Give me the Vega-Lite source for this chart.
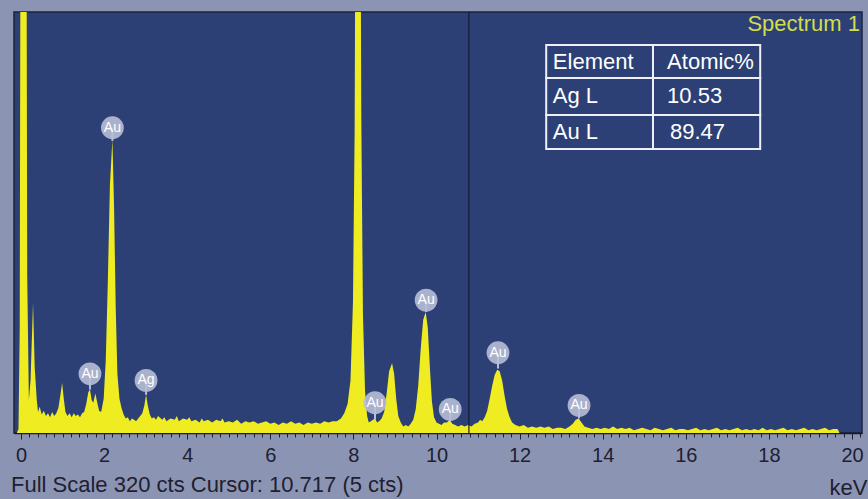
{
  "$schema": "https://vega.github.io/schema/vega-lite/v6.json",
  "width": 848,
  "height": 421,
  "autosize": {"type": "none"},
  "padding": {"left": 14, "top": 12, "right": 6, "bottom": 66},
  "background": "#8c94b4",
  "config": {
    "view": {"fill": "#2c4076", "stroke": "#1a2240", "strokeWidth": 1.5},
    "font": "Liberation Sans"
  },
  "title": {
    "text": "Full Scale 320 cts Cursor: 10.717 (5 cts)",
    "orient": "bottom",
    "anchor": "start",
    "frame": "group",
    "offset": -23,
    "dx": -3,
    "fontSize": 22,
    "font": "Liberation Sans",
    "fontWeight": "normal",
    "color": "#1e2030"
  },
  "datasets": {
    "spectrum": [
      {"keV": -0.1, "cts": 0}, {"keV": -0.06, "cts": 3}, {"keV": -0.03, "cts": 80}, {"keV": 0.0, "cts": 600},
      {"keV": 0.12, "cts": 600}, {"keV": 0.15, "cts": 120}, {"keV": 0.19, "cts": 25}, {"keV": 0.23, "cts": 40},
      {"keV": 0.29, "cts": 99}, {"keV": 0.33, "cts": 50}, {"keV": 0.38, "cts": 25}, {"keV": 0.41, "cts": 16},
      {"keV": 0.45, "cts": 20}, {"keV": 0.5, "cts": 14}, {"keV": 0.55, "cts": 17}, {"keV": 0.6, "cts": 13},
      {"keV": 0.65, "cts": 15}, {"keV": 0.7, "cts": 12}, {"keV": 0.75, "cts": 16}, {"keV": 0.8, "cts": 13},
      {"keV": 0.85, "cts": 15}, {"keV": 0.9, "cts": 19}, {"keV": 0.95, "cts": 29}, {"keV": 0.99, "cts": 38},
      {"keV": 1.03, "cts": 26}, {"keV": 1.07, "cts": 16}, {"keV": 1.12, "cts": 13}, {"keV": 1.17, "cts": 15},
      {"keV": 1.22, "cts": 12}, {"keV": 1.27, "cts": 15}, {"keV": 1.32, "cts": 13}, {"keV": 1.37, "cts": 14},
      {"keV": 1.42, "cts": 12}, {"keV": 1.47, "cts": 15}, {"keV": 1.52, "cts": 16}, {"keV": 1.57, "cts": 22},
      {"keV": 1.62, "cts": 31}, {"keV": 1.66, "cts": 33}, {"keV": 1.7, "cts": 25}, {"keV": 1.74, "cts": 23},
      {"keV": 1.79, "cts": 30}, {"keV": 1.83, "cts": 24}, {"keV": 1.88, "cts": 17}, {"keV": 1.93, "cts": 16},
      {"keV": 1.99, "cts": 26}, {"keV": 2.04, "cts": 55}, {"keV": 2.09, "cts": 115}, {"keV": 2.14, "cts": 188},
      {"keV": 2.2, "cts": 223}, {"keV": 2.24, "cts": 172}, {"keV": 2.28, "cts": 95}, {"keV": 2.32, "cts": 45},
      {"keV": 2.37, "cts": 26}, {"keV": 2.42, "cts": 19}, {"keV": 2.47, "cts": 14}, {"keV": 2.52, "cts": 11},
      {"keV": 2.57, "cts": 12}, {"keV": 2.62, "cts": 9}, {"keV": 2.67, "cts": 11}, {"keV": 2.72, "cts": 10},
      {"keV": 2.77, "cts": 9}, {"keV": 2.82, "cts": 11}, {"keV": 2.87, "cts": 13}, {"keV": 2.92, "cts": 15},
      {"keV": 2.97, "cts": 21}, {"keV": 3.01, "cts": 29}, {"keV": 3.05, "cts": 21}, {"keV": 3.1, "cts": 14},
      {"keV": 3.15, "cts": 11}, {"keV": 3.2, "cts": 12}, {"keV": 3.25, "cts": 10}, {"keV": 3.3, "cts": 13},
      {"keV": 3.4, "cts": 10}, {"keV": 3.45, "cts": 12}, {"keV": 3.5, "cts": 9}, {"keV": 3.6, "cts": 11},
      {"keV": 3.7, "cts": 10}, {"keV": 3.75, "cts": 13}, {"keV": 3.8, "cts": 9}, {"keV": 3.9, "cts": 11},
      {"keV": 4.0, "cts": 10}, {"keV": 4.05, "cts": 12}, {"keV": 4.1, "cts": 9}, {"keV": 4.2, "cts": 10},
      {"keV": 4.3, "cts": 8}, {"keV": 4.35, "cts": 11}, {"keV": 4.4, "cts": 9}, {"keV": 4.5, "cts": 10},
      {"keV": 4.6, "cts": 8}, {"keV": 4.7, "cts": 10}, {"keV": 4.8, "cts": 9}, {"keV": 4.85, "cts": 11},
      {"keV": 4.9, "cts": 8}, {"keV": 5.0, "cts": 9}, {"keV": 5.1, "cts": 8}, {"keV": 5.2, "cts": 10},
      {"keV": 5.3, "cts": 7}, {"keV": 5.4, "cts": 9}, {"keV": 5.5, "cts": 8}, {"keV": 5.6, "cts": 9},
      {"keV": 5.7, "cts": 7}, {"keV": 5.8, "cts": 8}, {"keV": 5.9, "cts": 9}, {"keV": 6.0, "cts": 7},
      {"keV": 6.1, "cts": 8}, {"keV": 6.2, "cts": 6}, {"keV": 6.3, "cts": 8}, {"keV": 6.4, "cts": 7},
      {"keV": 6.5, "cts": 9}, {"keV": 6.6, "cts": 7}, {"keV": 6.7, "cts": 8}, {"keV": 6.8, "cts": 6},
      {"keV": 6.9, "cts": 8}, {"keV": 7.0, "cts": 7}, {"keV": 7.1, "cts": 8}, {"keV": 7.2, "cts": 7},
      {"keV": 7.3, "cts": 9}, {"keV": 7.4, "cts": 8}, {"keV": 7.5, "cts": 9}, {"keV": 7.6, "cts": 9},
      {"keV": 7.7, "cts": 11}, {"keV": 7.78, "cts": 15}, {"keV": 7.86, "cts": 22}, {"keV": 7.93, "cts": 40},
      {"keV": 7.99, "cts": 100}, {"keV": 8.03, "cts": 230}, {"keV": 8.07, "cts": 600}, {"keV": 8.15, "cts": 600},
      {"keV": 8.19, "cts": 240}, {"keV": 8.23, "cts": 90}, {"keV": 8.28, "cts": 32}, {"keV": 8.33, "cts": 13},
      {"keV": 8.37, "cts": 8}, {"keV": 8.42, "cts": 9}, {"keV": 8.47, "cts": 10}, {"keV": 8.52, "cts": 11},
      {"keV": 8.57, "cts": 8}, {"keV": 8.62, "cts": 9}, {"keV": 8.68, "cts": 11}, {"keV": 8.74, "cts": 16},
      {"keV": 8.8, "cts": 30}, {"keV": 8.86, "cts": 47}, {"keV": 8.93, "cts": 53}, {"keV": 8.98, "cts": 45},
      {"keV": 9.03, "cts": 26}, {"keV": 9.08, "cts": 13}, {"keV": 9.14, "cts": 8}, {"keV": 9.2, "cts": 5},
      {"keV": 9.26, "cts": 6}, {"keV": 9.32, "cts": 5}, {"keV": 9.38, "cts": 7}, {"keV": 9.44, "cts": 10},
      {"keV": 9.5, "cts": 18}, {"keV": 9.56, "cts": 36}, {"keV": 9.62, "cts": 64}, {"keV": 9.68, "cts": 86},
      {"keV": 9.74, "cts": 92}, {"keV": 9.79, "cts": 80}, {"keV": 9.84, "cts": 50}, {"keV": 9.89, "cts": 24},
      {"keV": 9.94, "cts": 12}, {"keV": 10.0, "cts": 8}, {"keV": 10.06, "cts": 7}, {"keV": 10.12, "cts": 6},
      {"keV": 10.18, "cts": 8}, {"keV": 10.25, "cts": 8}, {"keV": 10.32, "cts": 10}, {"keV": 10.38, "cts": 7},
      {"keV": 10.45, "cts": 6}, {"keV": 10.52, "cts": 5}, {"keV": 10.6, "cts": 6}, {"keV": 10.68, "cts": 5},
      {"keV": 10.76, "cts": 6}, {"keV": 10.84, "cts": 5}, {"keV": 10.92, "cts": 7}, {"keV": 11.0, "cts": 8},
      {"keV": 11.05, "cts": 10}, {"keV": 11.1, "cts": 9}, {"keV": 11.16, "cts": 12}, {"keV": 11.22, "cts": 17},
      {"keV": 11.28, "cts": 26}, {"keV": 11.34, "cts": 36}, {"keV": 11.4, "cts": 44}, {"keV": 11.46, "cts": 48},
      {"keV": 11.52, "cts": 47}, {"keV": 11.58, "cts": 40}, {"keV": 11.64, "cts": 28}, {"keV": 11.7, "cts": 18},
      {"keV": 11.76, "cts": 12}, {"keV": 11.82, "cts": 8}, {"keV": 11.9, "cts": 6}, {"keV": 12.0, "cts": 5},
      {"keV": 12.1, "cts": 6}, {"keV": 12.2, "cts": 4}, {"keV": 12.3, "cts": 5}, {"keV": 12.4, "cts": 4},
      {"keV": 12.5, "cts": 5}, {"keV": 12.6, "cts": 4}, {"keV": 12.7, "cts": 5}, {"keV": 12.8, "cts": 3},
      {"keV": 12.9, "cts": 4}, {"keV": 13.0, "cts": 4}, {"keV": 13.1, "cts": 3}, {"keV": 13.2, "cts": 5},
      {"keV": 13.28, "cts": 7}, {"keV": 13.35, "cts": 10}, {"keV": 13.42, "cts": 11}, {"keV": 13.49, "cts": 8},
      {"keV": 13.56, "cts": 5}, {"keV": 13.65, "cts": 4}, {"keV": 13.75, "cts": 3}, {"keV": 13.85, "cts": 4},
      {"keV": 13.95, "cts": 3}, {"keV": 14.05, "cts": 4}, {"keV": 14.15, "cts": 3}, {"keV": 14.25, "cts": 5},
      {"keV": 14.35, "cts": 3}, {"keV": 14.45, "cts": 4}, {"keV": 14.55, "cts": 3}, {"keV": 14.65, "cts": 4},
      {"keV": 14.75, "cts": 2}, {"keV": 14.85, "cts": 3}, {"keV": 14.95, "cts": 4}, {"keV": 15.05, "cts": 3},
      {"keV": 15.15, "cts": 2}, {"keV": 15.25, "cts": 4}, {"keV": 15.35, "cts": 3}, {"keV": 15.45, "cts": 2},
      {"keV": 15.55, "cts": 3}, {"keV": 15.65, "cts": 4}, {"keV": 15.75, "cts": 2}, {"keV": 15.85, "cts": 3},
      {"keV": 15.95, "cts": 3}, {"keV": 16.05, "cts": 2}, {"keV": 16.15, "cts": 3}, {"keV": 16.25, "cts": 4},
      {"keV": 16.35, "cts": 2}, {"keV": 16.45, "cts": 3}, {"keV": 16.55, "cts": 2}, {"keV": 16.65, "cts": 3},
      {"keV": 16.75, "cts": 4}, {"keV": 16.85, "cts": 2}, {"keV": 16.95, "cts": 3}, {"keV": 17.05, "cts": 2},
      {"keV": 17.15, "cts": 3}, {"keV": 17.25, "cts": 4}, {"keV": 17.35, "cts": 2}, {"keV": 17.45, "cts": 3},
      {"keV": 17.55, "cts": 2}, {"keV": 17.65, "cts": 3}, {"keV": 17.75, "cts": 2}, {"keV": 17.85, "cts": 4},
      {"keV": 17.95, "cts": 2}, {"keV": 18.05, "cts": 3}, {"keV": 18.15, "cts": 2}, {"keV": 18.25, "cts": 3},
      {"keV": 18.35, "cts": 4}, {"keV": 18.45, "cts": 2}, {"keV": 18.55, "cts": 3}, {"keV": 18.65, "cts": 2},
      {"keV": 18.75, "cts": 3}, {"keV": 18.85, "cts": 4}, {"keV": 18.95, "cts": 2}, {"keV": 19.05, "cts": 3},
      {"keV": 19.15, "cts": 2}, {"keV": 19.25, "cts": 3}, {"keV": 19.35, "cts": 4}, {"keV": 19.45, "cts": 2},
      {"keV": 19.55, "cts": 3}, {"keV": 19.65, "cts": 3}, {"keV": 19.7, "cts": 0}, {"keV": 20.2, "cts": 0}
    ],
    "cursor": [{"keV": 10.78}],
    "peaks": [
      {"keV": 2.2, "label_cts": 232, "peak_cts": 222, "element": "Au"},
      {"keV": 1.66, "label_cts": 45, "peak_cts": 33, "element": "Au"},
      {"keV": 3.01, "label_cts": 40, "peak_cts": 29, "element": "Ag"},
      {"keV": 8.52, "label_cts": 23, "peak_cts": 10, "element": "Au"},
      {"keV": 9.75, "label_cts": 101, "peak_cts": 92, "element": "Au"},
      {"keV": 10.33, "label_cts": 18, "peak_cts": 9, "element": "Au"},
      {"keV": 11.48, "label_cts": 61, "peak_cts": 49, "element": "Au"},
      {"keV": 13.43, "label_cts": 21, "peak_cts": 11, "element": "Au"}
    ],
    "tableCells": [
      {"x0": 12.64, "x1": 15.21, "y0": 294.9, "y1": 269.8},
      {"x0": 15.21, "x1": 17.79, "y0": 294.9, "y1": 269.8},
      {"x0": 12.64, "x1": 15.21, "y0": 269.8, "y1": 241.7},
      {"x0": 15.21, "x1": 17.79, "y0": 269.8, "y1": 241.7},
      {"x0": 12.64, "x1": 15.21, "y0": 241.7, "y1": 215.8},
      {"x0": 15.21, "x1": 17.79, "y0": 241.7, "y1": 215.8}
    ],
    "tableText": [
      {"keV": 12.8, "cts": 282, "text": "Element"},
      {"keV": 15.55, "cts": 282, "text": "Atomic%"},
      {"keV": 12.8, "cts": 256, "text": "Ag L"},
      {"keV": 15.55, "cts": 256, "text": "10.53"},
      {"keV": 12.8, "cts": 229, "text": "Au L"},
      {"keV": 15.62, "cts": 229, "text": "89.47"}
    ],
    "spectrumTitle": [{"keV": 20.19, "cts": 311, "text": "Spectrum 1"}]
  },
  "encoding": {
    "x": {
      "field": "keV",
      "type": "quantitative",
      "scale": {"domain": [-0.168, 20.24], "nice": false, "zero": false},
      "axis": {
        "title": "keV",
        "titleX": 853,
        "titleY": 61,
        "titleAlign": "right",
        "titleAnchor": null,
        "titleBaseline": "alphabetic",
        "titleFontSize": 22,
        "titleFontWeight": "normal",
        "titleColor": "#1e2030",
        "titleFont": "Liberation Sans",
        "values": [0,0.2,0.4,0.6,0.8,1,1.2,1.4,1.6,1.8,2,2.2,2.4,2.6,2.8,3,3.2,3.4,3.6,3.8,4,4.2,4.4,4.6,4.8,5,5.2,5.4,5.6,5.8,6,6.2,6.4,6.6,6.8,7,7.2,7.4,7.6,7.8,8,8.2,8.4,8.6,8.8,9,9.2,9.4,9.6,9.8,10,10.2,10.4,10.6,10.8,11,11.2,11.4,11.6,11.8,12,12.2,12.4,12.6,12.8,13,13.2,13.4,13.6,13.8,14,14.2,14.4,14.6,14.8,15,15.2,15.4,15.6,15.8,16,16.2,16.4,16.6,16.8,17,17.2,17.4,17.6,17.8,18,18.2,18.4,18.6,18.8,19,19.2,19.4,19.6,19.8,20,20.2],
        "labelExpr": "abs(datum.value / 2 - round(datum.value / 2)) < 0.001 ? format(round(datum.value), 'd') : ''",
        "labelOverlap": false,
        "labelFlush": false,
        "labelBound": false,
        "labelFontSize": 20,
        "labelFont": "Liberation Sans",
        "labelColor": "#1e2030",
        "labelPadding": 6,
        "tickSize": {"condition": {"test": "abs(datum.value / 2 - round(datum.value / 2)) < 0.001", "value": 6}, "value": 4},
        "tickColor": "#1e2030",
        "tickWidth": 1,
        "domainColor": "#1a1a2a",
        "domainWidth": 1.5,
        "grid": false
      }
    },
    "y": {
      "field": "cts",
      "type": "quantitative",
      "scale": {"domain": [0, 320], "nice": false, "zero": true},
      "axis": null
    }
  },
  "layer": [
    {
      "data": {"name": "spectrum"},
      "mark": {"type": "area", "color": "#f0ec22", "clip": true, "interpolate": "linear"},
      "encoding": {}
    },
    {
      "data": {"name": "cursor"},
      "mark": {"type": "rule", "color": "#141a33", "strokeWidth": 1.2},
      "encoding": {"y": null}
    },
    {
      "data": {"name": "peaks"},
      "mark": {"type": "rule", "color": "#b8bed6", "strokeWidth": 2},
      "encoding": {
        "y": {"field": "label_cts", "type": "quantitative"},
        "y2": {"field": "peak_cts"}
      }
    },
    {
      "data": {"name": "peaks"},
      "mark": {"type": "point", "shape": "circle", "filled": true, "color": "#b8bed6", "opacity": 0.9, "size": 520},
      "encoding": {
        "y": {"field": "label_cts", "type": "quantitative"}
      }
    },
    {
      "data": {"name": "peaks"},
      "mark": {"type": "text", "color": "#ffffff", "fontSize": 14, "font": "Liberation Sans", "baseline": "middle", "align": "center"},
      "encoding": {
        "y": {"field": "label_cts", "type": "quantitative"},
        "text": {"field": "element"}
      }
    },
    {
      "data": {"name": "tableCells"},
      "mark": {"type": "rect", "fill": null, "fillOpacity": 0, "stroke": "#eef0f6", "strokeWidth": 2},
      "encoding": {
        "x": {"field": "x0", "type": "quantitative"},
        "x2": {"field": "x1"},
        "y": {"field": "y0", "type": "quantitative"},
        "y2": {"field": "y1"}
      }
    },
    {
      "data": {"name": "tableText"},
      "mark": {"type": "text", "color": "#ffffff", "fontSize": 22, "font": "Liberation Sans", "align": "left", "baseline": "middle"},
      "encoding": {
        "text": {"field": "text"}
      }
    },
    {
      "data": {"name": "spectrumTitle"},
      "mark": {"type": "text", "color": "#d0de4e", "fontSize": 22, "font": "Liberation Sans", "align": "right", "baseline": "middle"},
      "encoding": {
        "text": {"field": "text"}
      }
    }
  ]
}
